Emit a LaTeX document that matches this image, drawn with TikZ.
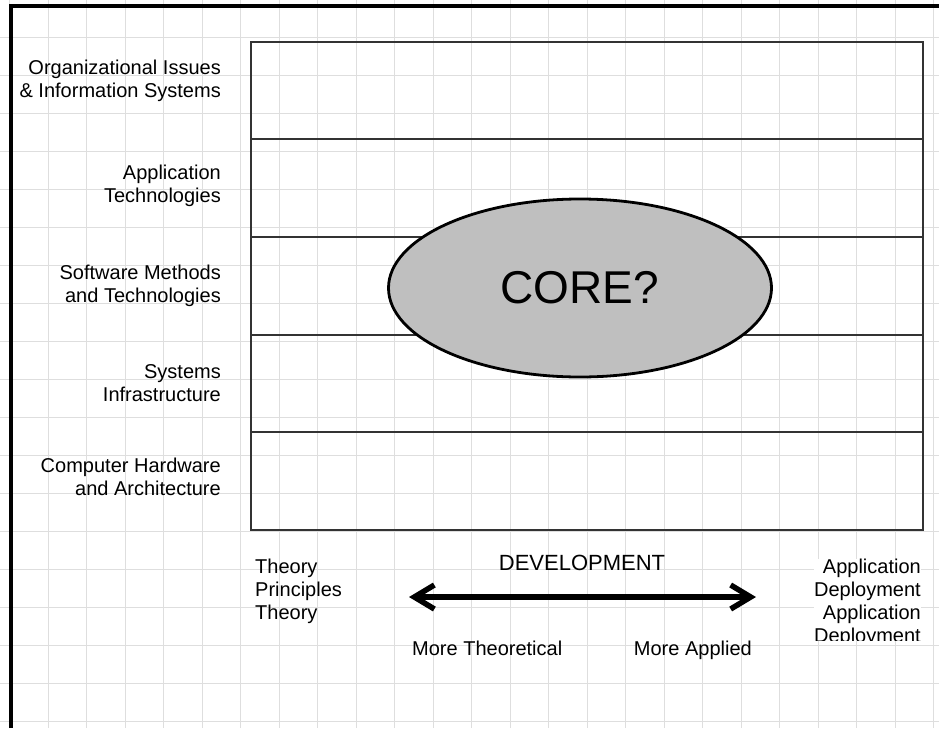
\documentclass[tikz,border=0pt]{standalone}
\usepackage{fontspec}
\setmainfont{Liberation Sans}
\usepackage{tikz}
\usetikzlibrary{arrows.meta,shapes.geometric,positioning}

\begin{document}
\begin{tikzpicture}[x=1pt,y=-1pt,
        gridline/.style={draw=black!13,line width=1pt},
        rowbox/.style={draw=black!80,line width=2pt,minimum width=672pt,minimum height=97.7pt,inner sep=0pt,outer sep=0pt},
        area/.style={align=right,inner sep=0pt,text=black,font=\fontsize{20}{23}\selectfont},
        note/.style={inner sep=0pt,text=black,font=\fontsize{20}{23}\selectfont},
        core/.style={ellipse,draw=black,line width=2.8pt,fill=black!25,minimum width=383pt,minimum height=178pt,font=\fontsize{46}{50}\selectfont},
        devarrow/.style={{Straight Barb[length=20pt,width=24pt]}-{Straight Barb[length=20pt,width=24pt]},line width=5.5pt,line cap=round}]
            \useasboundingbox (0,0) rectangle (939,728);
            \fill [white] (0,0) rectangle (939,728);
            \foreach \k in {0,...,24}
                \draw [gridline] ({9.5+38.5*\k},0) -- ++(0,728);
            \foreach \k in {0,...,18}
                \draw [gridline] (0,{37+38*\k}) -- ++(939,0);
            \draw [line width=4pt] (11,728) -- (11,6) -- (939,6);

            \foreach \i in {1,...,5}
                \node [rowbox] (row\i) at (587,{41.5+97.7*\i-48.85}) {};

            \node [area, left=30pt of row1.west, yshift=10pt] (org) {Organizational Issues\\\& Information Systems};
            \node [area, left=30pt of row2.west, yshift=2pt] (apptech) {Application\\Technologies};
            \node [area, left=30pt of row3.west] (soft) {Software Methods\\and Technologies};
            \node [area, left=30pt of row4.west] (sys) {Systems\\Infrastructure};
            \node [area, left=30pt of row5.west, yshift=4pt] (hw) {Computer Hardware\\and Architecture};

            \node [core] (core) at (580,288) {CORE?};

            \node [note, align=left, anchor=west] (theory) at (255,591) {Theory\\Principles\\Theory};
            \begin{scope}
                \clip (790,540) rectangle (939,640);
                \node [note, align=right, anchor=east, fill=white] (deploy) at (921,602.5) {Application\\Deployment\\Application\\Deployment};
            \end{scope}
            \node [note, font=\fontsize{22}{25}\selectfont] (dev) at (582,563) {DEVELOPMENT};
            \coordinate (devL) at (409,597);
            \coordinate (devR) at (756,597);
            \draw [devarrow] (devL) -- (devR);
            \node [note, anchor=base west] (theo) at (412,655) {More Theoretical};
            \node [note, anchor=base east] (appl) at (752,655) {More Applied};
\end{tikzpicture}
\end{document}
